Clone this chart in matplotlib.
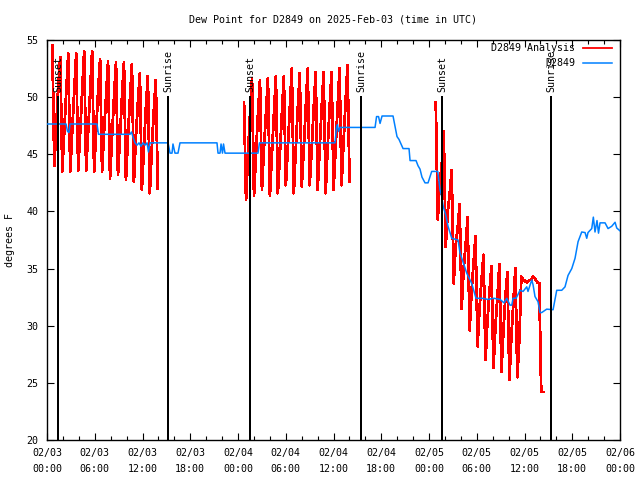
import matplotlib
matplotlib.use("Agg")
import matplotlib.pyplot as plt
import numpy as np
from matplotlib.ticker import MultipleLocator

plt.rcParams['font.family'] = ['DejaVu Sans Mono']
FS = 7.2

# ---- data (x in hours since 2025-02-03 00:00 UTC) ----
obs_t = [0.00, 2.39, 2.58, 2.76, 2.89, 6.28, 6.47, 10.43, 10.62, 10.81, 11.06, 11.31,
         11.56, 11.81, 12.06, 12.31, 12.57, 12.75, 12.94, 15.21, 15.46, 15.71, 15.83,
         16.08, 16.46, 16.71, 21.36, 21.49, 21.74, 21.87, 22.05, 22.18, 22.37, 26.51,
         26.70, 36.19, 36.38, 36.50, 36.63, 36.82, 41.22, 41.41, 41.66, 41.85, 42.10,
         43.48, 43.98, 44.23, 44.74, 45.49, 45.62, 46.37, 46.62, 46.87, 47.12, 47.50,
         47.88, 48.34, 49.10, 49.38, 49.60, 49.80, 50.10, 50.39, 50.86, 51.65, 51.90,
         52.27, 52.74, 53.37, 53.78, 53.91, 54.66, 55.42, 56.17, 56.93, 57.43, 57.77,
         58.18, 58.40, 58.56, 58.94, 59.44, 59.82, 60.28, 60.44, 60.91, 61.07, 61.32,
         61.70, 61.95, 62.16, 62.79, 63.59, 64.05, 64.68, 65.09, 65.47, 65.94, 66.35,
         66.73, 67.19, 67.61, 67.82, 67.98, 68.45, 68.65, 68.86, 69.11, 69.30, 69.49,
         69.70, 70.12, 70.50, 70.96, 71.38, 71.59, 72.00]
obs_v = [47.65, 47.65, 47.0, 46.9, 47.65, 47.65, 46.75, 46.75, 46.95, 46.5, 46.0, 45.8,
         46.0, 45.7, 46.0, 45.8, 46.0, 45.2, 46.0, 46.0, 45.1, 45.1, 45.9,
         45.1, 45.1, 46.0, 46.0, 45.1, 45.1, 45.9, 45.1, 45.9, 45.1, 45.1,
         46.0, 46.0, 47.35, 47.6, 47.0, 47.35, 47.35, 48.3, 48.3, 47.7, 48.35,
         48.35, 46.55, 46.3, 45.5, 45.5, 44.45, 44.45, 44.0, 43.7, 43.0, 42.5,
         42.5, 43.5, 43.5, 41.9, 41.3, 40.4, 39.7, 38.7, 37.65, 37.5, 36.35,
         35.6, 34.6, 33.7, 32.7, 32.4, 32.4, 32.3, 32.4, 32.3, 32.0, 32.4,
         31.8, 31.8, 32.4, 32.4, 33.1, 33.0, 33.4, 33.0, 34.0, 33.6, 32.55,
         32.1, 31.15, 31.15, 31.45, 31.4, 33.1, 33.1, 33.4, 34.4, 35.0, 35.9,
         37.35, 38.2, 38.15, 37.65, 38.15, 38.5, 39.5, 38.2, 39.2, 38.1, 39.0,
         39.0, 39.0, 38.5, 38.7, 39.05, 38.55, 38.3]

# analysis series: 15-minute samples, three blocks (start hour, values)
ana1_start = 0.67
ana1_v = [54.5, 44.0, 47.5, 51.0, 53.5, 43.5, 47.0, 50.5, 53.8, 43.5, 47.0, 50.5,
          53.8, 43.6, 47.0, 50.5, 54.0, 43.6, 47.0, 50.5, 54.0, 43.5, 47.0, 50.5,
          53.3, 43.5, 47.0, 50.0, 53.1, 42.9, 46.5, 50.0, 53.0, 43.2, 46.5, 50.0,
          53.05, 42.75, 46.5, 49.8, 52.9, 42.6, 46.5, 49.5, 52.1, 41.9, 45.5, 49.0,
          51.85, 41.6, 45.5, 48.8, 51.5, 42.0]
ana2_start = 24.76
ana2_v = [49.5, 41.0, 45.0, 48.5, 51.65, 41.4, 45.0, 48.5, 51.5, 41.9, 45.5, 48.5,
          51.65, 41.4, 45.0, 48.5, 51.8, 41.6, 45.0, 48.5, 51.8, 42.3, 45.5, 49.0,
          52.5, 41.6, 45.5, 49.0, 52.1, 42.2, 45.5, 49.0, 52.5, 42.3, 45.5, 49.0,
          52.2, 41.9, 45.5, 49.0, 52.2, 41.6, 45.5, 49.0, 52.2, 41.9, 45.5, 49.0,
          52.5, 42.3, 46.0, 49.5, 52.8, 42.6]
ana3_start = 48.85
ana3_v = [49.5, 39.3, 42.5, 44.0, 47.0, 36.9, 40.0, 41.5, 43.6, 33.7, 37.0, 38.5,
          40.65, 31.5, 35.0, 37.0, 39.5, 29.6, 33.0, 35.5, 37.85, 28.2, 31.5, 34.0,
          36.2, 27.0, 30.5, 33.0, 35.2, 26.3, 30.0, 32.5, 35.4, 26.0, 29.5, 32.5,
          34.7, 25.3, 29.0, 32.0, 35.0, 25.5, 28.8, 34.3, 34.0, 33.9, 33.8, 34.0,
          34.0, 34.3, 34.1, 33.8, 33.7, 24.2, 24.2]

event_t = [1.38, 15.21, 25.51, 39.46, 49.63, 63.33]
event_lbl = ["Sunset", "Sunrise", "Sunset", "Sunrise", "Sunset", "Sunrise"]

xtick_h = [0, 6, 12, 18, 24, 30, 36, 42, 48, 54, 60, 66, 72]
xtick_lbl = ["02/03\n00:00", "02/03\n06:00", "02/03\n12:00", "02/03\n18:00",
             "02/04\n00:00", "02/04\n06:00", "02/04\n12:00", "02/04\n18:00",
             "02/05\n00:00", "02/05\n06:00", "02/05\n12:00", "02/05\n18:00",
             "02/06\n00:00"]
ytick_v = [20, 25, 30, 35, 40, 45, 50, 55]

# ---- figure ----
fig = plt.figure(figsize=(6.4, 4.8), dpi=100)
ax = fig.add_axes([47/640, 1-440/480, 573/640, 400/480])

red = '#ff0000'
blue = '#0080ff'
blocks = [(ana1_start, ana1_v), (ana2_start, ana2_v), (ana3_start, ana3_v)]
for i, (t0, v) in enumerate(blocks):
    t = t0 + 0.25 * np.arange(len(v))
    ax.plot(t, v, color=red, lw=1.3, antialiased=False,
            label="D2849 Analysis" if i == 0 else None, zorder=2)
ax.plot(obs_t, obs_v, color=blue, lw=1.1, label="D2849", zorder=3)

for t, lbl in zip(event_t, event_lbl):
    ax.plot([t, t], [20, 50], color='black', lw=1.2, antialiased=False, zorder=4)
    ax.text(t, 50.45, lbl, rotation=90, ha='center', va='bottom', fontsize=FS, zorder=5)

ax.set_xlim(0, 72)
ax.set_ylim(20, 55)
ax.set_xticks(xtick_h)
ax.set_xticklabels(xtick_lbl)
ax.xaxis.set_minor_locator(MultipleLocator(2))
ax.set_yticks(ytick_v)
ax.set_yticklabels([str(v) for v in ytick_v])
ax.tick_params(axis='both', which='major', direction='in', length=5, width=0.8,
               top=True, right=True, labelsize=FS, pad=6)
ax.tick_params(axis='both', which='minor', direction='in', length=3, width=0.8,
               top=True, right=True)
for tl in ax.get_xticklabels():
    tl.set_linespacing(1.7)
for s in ax.spines.values():
    s.set_linewidth(1.0)

fig.text(333/640, 1-19/480, "Dew Point for D2849 on 2025-Feb-03 (time in UTC)",
         ha='center', va='center', fontsize=FS)
fig.text(10/640, 0.5, "degrees F", rotation=90, ha='center', va='center', fontsize=FS)

leg = ax.legend(loc='upper right', bbox_to_anchor=(612/640, 1-43/480),
                bbox_transform=fig.transFigure, frameon=False, markerfirst=False,
                fontsize=FS, handlelength=2.9, handletextpad=0.8, labelspacing=0.5,
                borderpad=0, borderaxespad=0)

fig.savefig("out.png", dpi=100)
